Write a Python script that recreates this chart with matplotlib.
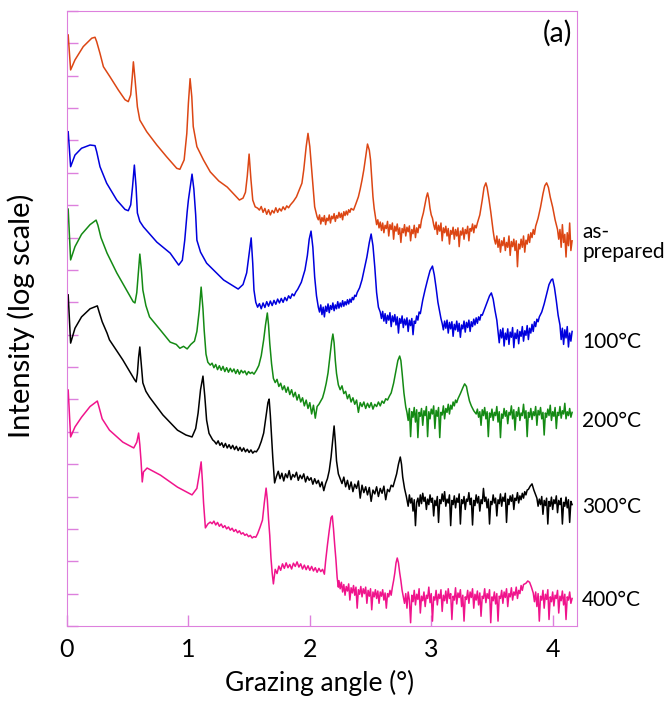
import matplotlib
matplotlib.use("Agg")
import matplotlib.pyplot as plt

# (grazing angle in deg, log10 intensity with offset, in decades)

asp = [(0.01, 18.26), (0.03, 17.18), (0.066, 17.49), (0.134, 17.90), (0.204, 18.16), (0.231, 18.19),
       (0.245, 18.05), (0.272, 17.69), (0.30, 17.28), (0.354, 16.97), (0.423, 16.56), (0.478, 16.26),
       (0.505, 16.20), (0.525, 16.41), (0.538, 16.97), (0.547, 17.43), (0.561, 16.87), (0.58, 16.04),
       (0.60, 15.63), (0.657, 15.27), (0.74, 14.86), (0.82, 14.50), (0.904, 14.14), (0.93, 14.11),
       (0.965, 14.40), (0.987, 15.22), (1.00, 16.15), (1.014, 16.91), (1.028, 16.35), (1.04, 15.43),
       (1.07, 14.81), (1.124, 14.40), (1.18, 14.03), (1.25, 13.75), (1.32, 13.56), (1.39, 13.28),
       (1.42, 13.16), (1.45, 13.22), (1.47, 13.40), (1.485, 13.90), (1.50, 14.58), (1.515, 13.80),
       (1.53, 13.16), (1.55, 12.95), (1.57, 12.91),
       (1.585, 12.85), (1.60, 12.96), (1.615, 12.78), (1.63, 12.90), (1.645, 12.72), (1.66, 12.86),
       (1.675, 12.70), (1.69, 12.84), (1.705, 12.76), (1.72, 12.92), (1.735, 12.78), (1.75, 12.90),
       (1.765, 12.82), (1.78, 12.95), (1.795, 12.86), (1.81, 12.98), (1.825, 12.92),
       (1.84, 13.01), (1.865, 13.12), (1.89, 13.26), (1.91, 13.45), (1.935, 13.68), (1.95, 14.09),
       (1.97, 14.81), (1.985, 15.22), (2.00, 14.81), (2.02, 13.88), (2.04, 12.95), (2.06, 12.64),
       (2.07, 12.55), (2.08, 12.70), (2.09, 12.42), (2.10, 12.62), (2.11, 12.50), (2.12, 12.68),
       (2.13, 12.40), (2.14, 12.60), (2.15, 12.52), (2.16, 12.70), (2.17, 12.45), (2.18, 12.66),
       (2.19, 12.58), (2.20, 12.74), (2.21, 12.50), (2.22, 12.68), (2.23, 12.60), (2.24, 12.78),
       (2.25, 12.62), (2.26, 12.75), (2.27, 12.55), (2.28, 12.80), (2.29, 12.68), (2.30, 12.82),
       (2.31, 12.70), (2.32, 12.86), (2.33, 12.78), (2.34, 12.90),
       (2.36, 12.85), (2.38, 13.05), (2.40, 13.26), (2.415, 13.50), (2.43, 13.78), (2.445, 14.10),
       (2.46, 14.50), (2.475, 14.89), (2.49, 14.70), (2.50, 14.40), (2.51, 13.85), (2.52, 13.26),
       (2.53, 12.90), (2.54, 12.64),
       (2.55, 12.40), (2.56, 12.55), (2.57, 12.30), (2.58, 12.48), (2.59, 12.22), (2.60, 12.45),
       (2.61, 12.15), (2.62, 12.38), (2.63, 12.28), (2.64, 12.50), (2.65, 12.05), (2.66, 12.40),
       (2.67, 12.25), (2.68, 12.45), (2.69, 11.95), (2.70, 12.35), (2.71, 12.20), (2.72, 12.42),
       (2.73, 12.10), (2.74, 12.30), (2.75, 11.85), (2.76, 12.28), (2.77, 12.15), (2.78, 12.40),
       (2.79, 12.05), (2.80, 12.32), (2.81, 12.18), (2.82, 12.36), (2.83, 11.90), (2.84, 12.25),
       (2.85, 12.12), (2.86, 12.38), (2.87, 12.00), (2.88, 12.30), (2.89, 12.15), (2.90, 12.40),
       (2.91, 12.30),
       (2.92, 12.55), (2.935, 12.76), (2.95, 13.05), (2.96, 13.25), (2.97, 13.38), (2.98, 13.20),
       (2.99, 12.90), (3.00, 12.70), (3.01, 12.60),
       (3.02, 12.40), (3.03, 12.25), (3.04, 12.48), (3.05, 12.10), (3.06, 12.38), (3.07, 12.20),
       (3.08, 12.45), (3.09, 11.90), (3.10, 12.30), (3.11, 12.15), (3.12, 12.35), (3.13, 12.05),
       (3.14, 12.28), (3.15, 11.80), (3.16, 12.22), (3.17, 12.10), (3.18, 12.32), (3.19, 11.95),
       (3.20, 12.25), (3.21, 12.05), (3.22, 12.30), (3.23, 11.72), (3.24, 12.20), (3.25, 12.08),
       (3.26, 12.30), (3.27, 11.95), (3.28, 12.25), (3.29, 12.12), (3.30, 12.35), (3.31, 11.90),
       (3.32, 12.28), (3.33, 12.20), (3.34, 12.42), (3.35, 12.15), (3.36, 12.38), (3.37, 12.30),
       (3.38, 12.45), (3.40, 12.70), (3.42, 13.16), (3.435, 13.55), (3.45, 13.69), (3.46, 13.55),
       (3.475, 13.20), (3.49, 12.80), (3.50, 12.50), (3.51, 12.20), (3.52, 11.95),
       (3.53, 11.80), (3.54, 12.05), (3.55, 11.70), (3.56, 11.95), (3.57, 11.55), (3.58, 11.90),
       (3.59, 11.75), (3.60, 12.00), (3.61, 11.60), (3.62, 11.85), (3.63, 11.70), (3.64, 12.05),
       (3.65, 11.45), (3.66, 11.88), (3.67, 11.72), (3.68, 11.95), (3.69, 11.60), (3.70, 11.90),
       (3.71, 11.10), (3.72, 11.80), (3.73, 11.65), (3.74, 11.95), (3.75, 11.70), (3.76, 12.05),
       (3.77, 11.55), (3.78, 11.92), (3.79, 11.80), (3.80, 12.10), (3.81, 11.85), (3.82, 12.15),
       (3.83, 12.00), (3.84, 12.25), (3.85, 12.10),
       (3.86, 12.35), (3.88, 12.60), (3.90, 12.94), (3.92, 13.35), (3.935, 13.60), (3.95, 13.69),
       (3.965, 13.55), (3.98, 13.25), (4.00, 12.94), (4.02, 12.55), (4.04, 12.25),
       (4.05, 11.95), (4.06, 12.25), (4.07, 11.70), (4.08, 12.40), (4.09, 11.85), (4.10, 12.10),
       (4.11, 11.40), (4.12, 12.15), (4.13, 11.75), (4.14, 12.45), (4.15, 11.60), (4.16, 11.90)]

c100 = [(0.01, 15.27), (0.03, 14.19), (0.066, 14.55), (0.12, 14.76), (0.19, 14.86), (0.231, 14.84),
        (0.245, 14.65), (0.272, 14.19), (0.327, 13.68), (0.41, 13.16), (0.478, 12.87), (0.505, 12.83),
        (0.525, 13.01), (0.54, 13.57), (0.555, 14.24), (0.569, 13.57), (0.58, 12.76), (0.60, 12.50),
        (0.63, 12.33), (0.74, 11.86), (0.85, 11.52), (0.92, 11.15), (0.95, 11.30), (0.97, 11.92),
        (0.99, 12.80), (1.00, 13.16), (1.03, 13.96), (1.045, 13.50), (1.06, 12.70), (1.07, 11.92),
        (1.10, 11.55), (1.15, 11.21), (1.29, 10.69), (1.38, 10.48), (1.41, 10.41), (1.45, 10.55),
        (1.48, 10.91), (1.50, 11.50), (1.517, 11.99), (1.53, 11.20), (1.54, 10.38), (1.555, 10.00),
        (1.57, 9.85),
        (1.585, 9.96), (1.60, 9.80), (1.615, 9.98), (1.63, 9.84), (1.645, 10.02), (1.66, 9.88),
        (1.675, 10.04), (1.69, 9.90), (1.705, 10.06), (1.72, 9.94), (1.735, 10.10), (1.75, 9.98),
        (1.765, 10.12), (1.78, 10.00), (1.795, 10.15), (1.81, 10.05), (1.825, 10.20), (1.84, 10.12),
        (1.855, 10.26), (1.87, 10.20), (1.885, 10.32),
        (1.90, 10.40), (1.93, 10.62), (1.96, 11.00), (1.98, 11.45), (1.995, 11.95), (2.01, 12.20),
        (2.025, 11.70), (2.04, 10.78), (2.055, 10.20), (2.07, 9.85),
        (2.08, 9.70), (2.09, 9.92), (2.10, 9.62), (2.11, 9.85), (2.12, 9.55), (2.13, 9.88),
        (2.14, 9.72), (2.15, 9.95), (2.16, 9.68), (2.17, 9.90), (2.18, 9.78), (2.19, 9.98),
        (2.20, 9.74), (2.21, 9.92), (2.22, 9.80), (2.23, 10.02), (2.24, 9.82), (2.25, 9.98),
        (2.26, 9.86), (2.27, 10.05), (2.28, 9.88), (2.29, 10.02), (2.30, 9.92), (2.31, 10.08),
        (2.32, 9.95), (2.33, 10.10), (2.34, 10.00), (2.35, 10.15), (2.36, 10.08), (2.37, 10.22),
        (2.38, 10.18), (2.39, 10.30),
        (2.41, 10.45), (2.43, 10.70), (2.45, 11.05), (2.47, 11.40), (2.49, 11.85), (2.505, 12.11),
        (2.52, 11.75), (2.535, 11.09), (2.55, 10.30), (2.565, 9.85), (2.58, 9.70),
        (2.59, 9.50), (2.60, 9.72), (2.61, 9.42), (2.62, 9.65), (2.63, 9.35), (2.64, 9.60),
        (2.65, 9.45), (2.66, 9.68), (2.67, 9.25), (2.68, 9.58), (2.69, 9.40), (2.70, 9.62),
        (2.71, 9.30), (2.72, 9.55), (2.73, 9.05), (2.74, 9.50), (2.75, 9.35), (2.76, 9.58),
        (2.77, 9.22), (2.78, 9.48), (2.79, 9.30), (2.80, 9.52), (2.81, 9.10), (2.82, 9.45),
        (2.83, 9.28), (2.84, 9.50), (2.85, 9.00), (2.86, 9.42), (2.87, 9.35), (2.88, 9.58),
        (2.89, 9.45), (2.90, 9.70), (2.91, 9.65),
        (2.93, 10.07), (2.95, 10.40), (2.97, 10.70), (2.99, 10.98), (3.01, 11.12), (3.025, 10.85),
        (3.04, 10.45), (3.055, 10.00), (3.07, 9.70), (3.08, 9.50),
        (3.09, 9.35), (3.10, 9.15), (3.11, 9.42), (3.12, 9.20), (3.13, 9.45), (3.14, 9.05),
        (3.15, 9.38), (3.16, 9.18), (3.17, 9.40), (3.18, 8.95), (3.19, 9.32), (3.20, 9.15),
        (3.21, 9.42), (3.22, 9.10), (3.23, 9.35), (3.24, 8.92), (3.25, 9.30), (3.26, 9.18),
        (3.27, 9.42), (3.28, 9.08), (3.29, 9.38), (3.30, 9.22), (3.31, 9.45), (3.32, 9.10),
        (3.33, 9.40), (3.34, 9.25), (3.35, 9.48), (3.36, 9.30), (3.37, 9.52), (3.38, 9.35),
        (3.39, 9.55), (3.40, 9.45), (3.41, 9.62), (3.42, 9.60),
        (3.44, 9.80), (3.46, 10.00), (3.48, 10.20), (3.495, 10.29), (3.51, 10.10), (3.525, 9.75),
        (3.54, 9.45),
        (3.55, 9.10), (3.56, 8.75), (3.57, 9.15), (3.58, 8.90), (3.59, 9.20), (3.60, 8.65),
        (3.61, 9.05), (3.62, 8.85), (3.63, 9.18), (3.64, 8.70), (3.65, 9.08), (3.66, 8.92),
        (3.67, 9.22), (3.68, 8.60), (3.69, 9.05), (3.70, 8.88), (3.71, 9.15), (3.72, 8.72),
        (3.73, 9.10), (3.74, 8.95), (3.75, 9.25), (3.76, 8.80), (3.77, 9.12), (3.78, 8.98),
        (3.79, 9.28), (3.80, 8.85), (3.81, 9.20), (3.82, 9.05), (3.83, 9.32), (3.84, 9.10),
        (3.85, 9.40), (3.86, 9.25), (3.87, 9.48), (3.88, 9.40), (3.89, 9.55),
        (3.91, 9.70), (3.93, 9.95), (3.95, 10.25), (3.97, 10.55), (3.99, 10.70), (4.00, 10.72),
        (4.015, 10.45), (4.03, 10.05), (4.045, 9.60), (4.06, 9.30),
        (4.07, 8.85), (4.08, 9.20), (4.09, 8.70), (4.10, 9.15), (4.11, 8.90), (4.12, 9.25),
        (4.13, 8.62), (4.14, 9.05), (4.15, 8.80), (4.16, 9.10)]

c200 = [(0.01, 12.88), (0.03, 11.31), (0.066, 11.72), (0.12, 12.10), (0.19, 12.40), (0.24, 12.54),
        (0.255, 12.38), (0.28, 12.00), (0.33, 11.52), (0.41, 10.91), (0.49, 10.38), (0.545, 10.02),
        (0.56, 9.98), (0.575, 10.30), (0.59, 11.00), (0.60, 11.49), (0.613, 11.00), (0.625, 10.38),
        (0.65, 9.90), (0.68, 9.55), (0.77, 9.14), (0.85, 8.77), (0.90, 8.70), (0.93, 8.58),
        (0.96, 8.64), (0.99, 8.56), (1.02, 8.70), (1.05, 8.80),
        (1.07, 9.10), (1.09, 9.76), (1.105, 10.47), (1.12, 9.80), (1.13, 9.14), (1.145, 8.40),
        (1.16, 8.15), (1.18, 8.06),
        (1.195, 8.12), (1.21, 7.98), (1.225, 8.08), (1.24, 7.92), (1.255, 8.04), (1.27, 7.90),
        (1.285, 8.02), (1.30, 7.86), (1.315, 7.98), (1.33, 7.84), (1.345, 7.96), (1.36, 7.85),
        (1.375, 7.94), (1.39, 7.80), (1.405, 7.92), (1.42, 7.78), (1.435, 7.90), (1.45, 7.82),
        (1.465, 7.88), (1.48, 7.76), (1.495, 7.86), (1.51, 7.80), (1.525, 7.84), (1.54, 7.78),
        (1.56, 7.90), (1.58, 8.05), (1.60, 8.35), (1.62, 8.84), (1.635, 9.30), (1.65, 9.67),
        (1.66, 9.30), (1.67, 8.74), (1.685, 8.10), (1.70, 7.65),
        (1.715, 7.52), (1.73, 7.62), (1.745, 7.40), (1.76, 7.50), (1.775, 7.30), (1.79, 7.42),
        (1.805, 7.22), (1.82, 7.38), (1.835, 7.15), (1.85, 7.30), (1.865, 7.08), (1.88, 7.22),
        (1.895, 6.98), (1.91, 7.15), (1.925, 6.92), (1.94, 7.05), (1.955, 6.80), (1.97, 6.98),
        (1.985, 6.72), (2.00, 6.90), (2.015, 6.55), (2.03, 6.82), (2.045, 6.42), (2.06, 6.78),
        (2.075, 6.85), (2.09, 6.95), (2.105, 7.05), (2.12, 7.25), (2.135, 7.50),
        (2.15, 7.82), (2.165, 8.30), (2.18, 8.80), (2.19, 9.02), (2.20, 8.75), (2.21, 8.20),
        (2.22, 7.80), (2.235, 7.45),
        (2.25, 7.30), (2.265, 7.42), (2.28, 7.18), (2.295, 7.25), (2.31, 7.02), (2.325, 7.15),
        (2.34, 6.92), (2.355, 7.05), (2.37, 6.85), (2.385, 6.98), (2.40, 6.60), (2.415, 6.90),
        (2.43, 6.78), (2.445, 6.92), (2.46, 6.72), (2.475, 6.88), (2.49, 6.75), (2.505, 6.90),
        (2.52, 6.70), (2.535, 6.85), (2.55, 6.78), (2.565, 6.92), (2.58, 6.80), (2.595, 6.95),
        (2.61, 6.88), (2.625, 7.02), (2.64, 6.98), (2.655, 7.10),
        (2.67, 7.20), (2.69, 7.50), (2.71, 7.90), (2.725, 8.20), (2.74, 8.34), (2.75, 8.20),
        (2.76, 7.82), (2.775, 7.20), (2.79, 6.77),
        (2.80, 6.60), (2.81, 6.35), (2.82, 6.72), (2.83, 5.85), (2.84, 6.62), (2.85, 6.45),
        (2.86, 6.75), (2.87, 6.30), (2.88, 6.68), (2.89, 5.82), (2.90, 6.60), (2.91, 6.48),
        (2.92, 6.72), (2.93, 6.20), (2.94, 6.65), (2.95, 6.50), (2.96, 6.78), (2.97, 5.85),
        (2.98, 6.62), (2.99, 6.40), (3.00, 6.70), (3.01, 6.55), (3.02, 6.80), (3.03, 6.10),
        (3.04, 6.66), (3.05, 6.48), (3.06, 6.75), (3.07, 5.82), (3.08, 6.60), (3.09, 6.52),
        (3.10, 6.80), (3.11, 6.40), (3.12, 6.72), (3.13, 6.60), (3.14, 6.85), (3.15, 6.55),
        (3.16, 6.82), (3.17, 6.70), (3.18, 6.92), (3.19, 6.80), (3.20, 6.98), (3.21, 6.90),
        (3.22, 7.02), (3.24, 7.18), (3.26, 7.36), (3.275, 7.48), (3.29, 7.40), (3.30, 7.20),
        (3.315, 6.95), (3.33, 6.80), (3.35, 6.65), (3.37, 6.55),
        (3.38, 6.70), (3.39, 6.45), (3.40, 6.62), (3.41, 6.20), (3.42, 6.68), (3.43, 6.50),
        (3.44, 6.75), (3.45, 6.40), (3.46, 6.62), (3.47, 5.85), (3.48, 6.58), (3.49, 6.45),
        (3.50, 6.70), (3.51, 6.35), (3.52, 6.60), (3.53, 6.50), (3.54, 6.78), (3.55, 6.30),
        (3.56, 6.62), (3.57, 5.82), (3.58, 6.55), (3.59, 6.42), (3.60, 6.72), (3.61, 6.48),
        (3.62, 6.65), (3.63, 6.25), (3.64, 6.60), (3.65, 6.52), (3.66, 6.80), (3.67, 6.40),
        (3.68, 6.68), (3.69, 6.05), (3.70, 6.62), (3.71, 6.48), (3.72, 6.75), (3.73, 6.35),
        (3.74, 6.58), (3.75, 6.50), (3.76, 6.85), (3.77, 6.42), (3.78, 6.65), (3.79, 5.85),
        (3.80, 6.60), (3.81, 6.45), (3.82, 6.72), (3.83, 6.38), (3.84, 6.62), (3.85, 6.50),
        (3.86, 6.78), (3.87, 6.20), (3.88, 6.66), (3.89, 6.52), (3.90, 6.75), (3.91, 6.40),
        (3.92, 6.60), (3.93, 5.90), (3.94, 6.58), (3.95, 6.45), (3.96, 6.70), (3.97, 6.50),
        (3.98, 6.82), (3.99, 6.35), (4.00, 6.62), (4.01, 6.48), (4.02, 6.75), (4.03, 6.10),
        (4.04, 6.60), (4.05, 6.50), (4.06, 6.78), (4.07, 6.42), (4.08, 6.65), (4.09, 6.55),
        (4.10, 6.88), (4.11, 6.40), (4.12, 6.62), (4.13, 6.50), (4.14, 6.72), (4.15, 6.45),
        (4.16, 6.60)]

c300 = [(0.01, 10.23), (0.03, 8.74), (0.066, 9.20), (0.12, 9.55), (0.19, 9.80), (0.25, 9.89),
        (0.265, 9.70), (0.29, 9.40), (0.33, 9.05), (0.35, 8.84), (0.46, 8.22), (0.555, 7.62),
        (0.57, 7.54), (0.58, 7.80), (0.59, 8.30), (0.60, 8.62), (0.612, 8.10), (0.625, 7.51),
        (0.65, 7.25), (0.68, 7.07), (0.79, 6.52), (0.91, 6.05), (0.98, 5.90), (1.03, 5.84),
        (1.06, 6.10), (1.08, 6.58), (1.10, 7.30), (1.12, 7.72), (1.135, 7.10), (1.15, 6.36),
        (1.17, 5.95), (1.20, 5.75),
        (1.215, 5.70), (1.23, 5.62), (1.245, 5.72), (1.26, 5.58), (1.275, 5.66), (1.29, 5.52),
        (1.305, 5.64), (1.32, 5.50), (1.335, 5.60), (1.35, 5.48), (1.365, 5.58), (1.38, 5.45),
        (1.395, 5.55), (1.41, 5.42), (1.425, 5.52), (1.44, 5.40), (1.455, 5.50), (1.47, 5.38),
        (1.485, 5.46), (1.50, 5.36), (1.515, 5.44), (1.53, 5.34), (1.545, 5.40), (1.56, 5.38),
        (1.58, 5.50), (1.60, 5.70), (1.62, 5.96), (1.64, 6.50), (1.655, 6.90), (1.665, 7.01),
        (1.675, 6.50), (1.685, 5.85), (1.695, 5.20), (1.71, 4.42),
        (1.725, 4.62), (1.74, 4.78), (1.755, 4.55), (1.77, 4.72), (1.785, 4.48), (1.80, 4.70),
        (1.815, 4.58), (1.83, 4.80), (1.845, 4.52), (1.86, 4.68), (1.875, 4.60), (1.89, 4.75),
        (1.905, 4.50), (1.92, 4.66), (1.935, 4.55), (1.95, 4.70), (1.965, 4.45), (1.98, 4.62),
        (1.995, 4.50), (2.01, 4.58), (2.025, 4.38), (2.04, 4.55), (2.055, 4.40), (2.07, 4.50),
        (2.085, 4.30), (2.10, 4.45), (2.115, 4.18), (2.13, 4.40),
        (2.145, 4.55), (2.16, 4.80), (2.175, 5.22), (2.19, 5.80), (2.20, 6.18), (2.21, 5.70),
        (2.22, 5.10), (2.235, 4.70), (2.25, 4.55),
        (2.265, 4.40), (2.28, 4.60), (2.295, 4.30), (2.31, 4.50), (2.325, 4.22), (2.34, 4.45),
        (2.355, 4.15), (2.37, 4.38), (2.385, 4.25), (2.40, 4.48), (2.415, 3.95), (2.43, 4.35),
        (2.445, 4.12), (2.46, 4.30), (2.475, 4.05), (2.49, 4.28), (2.505, 3.85), (2.52, 4.20),
        (2.535, 4.08), (2.55, 4.30), (2.565, 4.00), (2.58, 4.25), (2.595, 4.10), (2.61, 4.32),
        (2.625, 3.90), (2.64, 4.22), (2.655, 4.15), (2.67, 4.35), (2.685, 4.30),
        (2.70, 4.50), (2.715, 4.70), (2.73, 5.00), (2.745, 5.22), (2.755, 5.00), (2.765, 4.60),
        (2.78, 4.25), (2.795, 4.00),
        (2.80, 3.90), (2.81, 3.70), (2.82, 4.05), (2.83, 3.80), (2.84, 3.95), (2.85, 3.55),
        (2.86, 3.90), (2.87, 3.10), (2.88, 3.82), (2.89, 3.95), (2.90, 3.70), (2.91, 4.05),
        (2.92, 3.78), (2.93, 4.10), (2.94, 3.85), (2.95, 3.98), (2.96, 3.60), (2.97, 3.92),
        (2.98, 3.75), (2.99, 4.05), (3.00, 3.82), (3.01, 3.95), (3.02, 3.40), (3.03, 3.88),
        (3.04, 3.72), (3.05, 4.00), (3.06, 3.20), (3.07, 3.90), (3.08, 3.78), (3.09, 4.08),
        (3.10, 3.85), (3.11, 4.15), (3.12, 3.70), (3.13, 3.92), (3.14, 3.80), (3.15, 4.05),
        (3.16, 3.10), (3.17, 3.88), (3.18, 3.75), (3.19, 4.02), (3.20, 3.65), (3.21, 3.95),
        (3.22, 3.82), (3.23, 4.08), (3.24, 3.15), (3.25, 3.90), (3.26, 3.78), (3.27, 4.00),
        (3.28, 3.60), (3.29, 3.92), (3.30, 3.85), (3.31, 4.12), (3.32, 3.75), (3.33, 3.95),
        (3.34, 3.12), (3.35, 3.88), (3.36, 3.72), (3.37, 4.05), (3.38, 3.80), (3.39, 4.00),
        (3.40, 3.55), (3.41, 3.90), (3.42, 3.78), (3.43, 4.25), (3.44, 3.85), (3.45, 3.98),
        (3.46, 3.65), (3.47, 3.92), (3.48, 3.15), (3.49, 3.85), (3.50, 3.75), (3.51, 4.05),
        (3.52, 3.80), (3.53, 3.95), (3.54, 3.40), (3.55, 3.90), (3.56, 3.78), (3.57, 4.08),
        (3.58, 3.70), (3.59, 3.98), (3.60, 3.85), (3.61, 4.10), (3.62, 3.20), (3.63, 3.92),
        (3.64, 3.75), (3.65, 4.02), (3.66, 3.85), (3.67, 4.05), (3.68, 3.60), (3.69, 3.95),
        (3.70, 3.88), (3.71, 4.12), (3.72, 3.80), (3.73, 4.02), (3.74, 3.90), (3.75, 4.10),
        (3.76, 3.95), (3.77, 4.15), (3.78, 4.05), (3.79, 4.20),
        (3.80, 4.22), (3.815, 4.32), (3.83, 4.39), (3.845, 4.20), (3.86, 4.05), (3.87, 3.95),
        (3.88, 3.70), (3.89, 3.92), (3.90, 3.75), (3.91, 4.00), (3.92, 3.45), (3.93, 3.88),
        (3.94, 3.72), (3.95, 3.95), (3.96, 3.15), (3.97, 3.85), (3.98, 3.70), (3.99, 3.98),
        (4.00, 3.60), (4.01, 3.90), (4.02, 3.78), (4.03, 4.02), (4.04, 3.50), (4.05, 3.88),
        (4.06, 3.75), (4.07, 3.95), (4.08, 3.15), (4.09, 3.82), (4.10, 3.70), (4.11, 3.98),
        (4.12, 3.65), (4.13, 3.90), (4.14, 3.20), (4.15, 3.85), (4.16, 3.75)]

c400 = [(0.01, 7.29), (0.03, 5.84), (0.066, 6.15), (0.12, 6.45), (0.19, 6.78), (0.25, 6.95),
        (0.265, 6.75), (0.29, 6.40), (0.35, 6.05), (0.46, 5.68), (0.55, 5.50), (0.575, 5.68),
        (0.59, 5.96), (0.60, 5.60), (0.61, 5.10), (0.62, 4.45), (0.63, 4.76), (0.66, 4.88),
        (0.77, 4.66), (0.91, 4.29), (1.03, 4.05), (1.07, 4.25), (1.09, 4.70), (1.105, 5.07),
        (1.115, 4.50), (1.125, 3.80), (1.14, 3.03), (1.16, 3.15), (1.18, 3.21),
        (1.195, 3.16), (1.21, 3.24), (1.225, 3.12), (1.24, 3.20), (1.255, 3.08), (1.27, 3.15),
        (1.285, 3.04), (1.30, 3.10), (1.315, 3.00), (1.33, 3.06), (1.345, 2.96), (1.36, 3.02),
        (1.375, 2.92), (1.39, 2.98), (1.405, 2.88), (1.42, 2.94), (1.435, 2.84), (1.45, 2.88),
        (1.465, 2.80), (1.48, 2.84), (1.495, 2.76), (1.51, 2.80), (1.525, 2.72), (1.54, 2.76),
        (1.555, 2.74),
        (1.57, 2.85), (1.59, 3.05), (1.61, 3.27), (1.625, 3.80), (1.64, 4.26), (1.65, 3.90),
        (1.66, 3.30), (1.67, 2.80), (1.68, 2.10), (1.69, 1.64),
        (1.70, 1.30), (1.715, 1.75), (1.73, 1.62), (1.745, 1.85), (1.76, 1.72), (1.775, 1.92),
        (1.79, 1.78), (1.805, 1.95), (1.82, 1.80), (1.835, 1.90), (1.85, 1.76), (1.865, 1.94),
        (1.88, 1.84), (1.895, 1.98), (1.91, 1.82), (1.925, 1.92), (1.94, 1.76), (1.955, 1.88),
        (1.97, 1.74), (1.985, 1.86), (2.00, 1.72), (2.015, 1.84), (2.03, 1.70), (2.045, 1.80),
        (2.06, 1.66), (2.075, 1.78), (2.09, 1.68), (2.105, 1.75), (2.12, 1.60),
        (2.13, 2.00), (2.145, 2.50), (2.16, 2.95), (2.175, 3.35), (2.185, 3.40), (2.195, 3.00),
        (2.205, 2.50), (2.215, 2.05), (2.225, 1.50), (2.235, 1.20),
        (2.24, 1.40), (2.25, 1.15), (2.26, 1.35), (2.27, 1.05), (2.28, 1.28), (2.29, 0.95),
        (2.30, 1.22), (2.31, 1.08), (2.32, 1.30), (2.33, 0.80), (2.34, 1.18), (2.35, 1.02),
        (2.36, 1.25), (2.37, 0.95), (2.38, 1.20), (2.39, 0.55), (2.40, 1.12), (2.41, 0.98),
        (2.42, 1.22), (2.43, 0.90), (2.44, 1.15), (2.45, 1.00), (2.46, 1.20), (2.47, 0.70),
        (2.48, 1.10), (2.49, 0.92), (2.50, 1.15), (2.51, 0.50), (2.52, 1.05), (2.53, 0.90),
        (2.54, 1.12), (2.55, 0.85), (2.56, 1.08), (2.57, 0.70), (2.58, 1.05), (2.59, 0.92),
        (2.60, 1.12), (2.61, 0.80), (2.62, 1.02), (2.63, 0.55), (2.64, 1.00), (2.65, 0.90),
        (2.66, 1.10), (2.67, 0.95), (2.68, 1.20),
        (2.69, 1.40), (2.70, 1.64), (2.71, 1.95), (2.72, 2.10), (2.73, 1.95), (2.74, 1.65),
        (2.75, 1.40), (2.76, 1.10), (2.77, 0.90),
        (2.78, 0.70), (2.79, 1.00), (2.80, 0.55), (2.81, 1.05), (2.82, 0.80), (2.83, 0.10),
        (2.84, 0.95), (2.85, 0.75), (2.86, 1.10), (2.87, 0.65), (2.88, 0.98), (2.89, 0.82),
        (2.90, 1.15), (2.91, 0.40), (2.92, 0.92), (2.93, 0.78), (2.94, 1.05), (2.95, 0.60),
        (2.96, 0.95), (2.97, 0.85), (2.98, 1.20), (2.99, 0.72), (3.00, 1.00), (3.01, 0.15),
        (3.02, 0.90), (3.03, 0.80), (3.04, 1.10), (3.05, 0.65), (3.06, 0.98), (3.07, 0.85),
        (3.08, 1.12), (3.09, 0.45), (3.10, 0.95), (3.11, 0.78), (3.12, 1.08), (3.13, 0.70),
        (3.14, 1.15), (3.15, 0.85), (3.16, 1.00), (3.17, 0.20), (3.18, 0.92), (3.19, 0.80),
        (3.20, 1.18), (3.21, 0.68), (3.22, 1.02), (3.23, 0.88), (3.24, 1.12), (3.25, 0.60),
        (3.26, 0.95), (3.27, 0.15), (3.28, 0.90), (3.29, 0.82), (3.30, 1.10), (3.31, 0.70),
        (3.32, 1.05), (3.33, 0.88), (3.34, 1.15), (3.35, 0.55), (3.36, 0.98), (3.37, 0.80),
        (3.38, 1.08), (3.39, 0.65), (3.40, 1.02), (3.41, 0.30), (3.42, 0.92), (3.43, 0.85),
        (3.44, 1.15), (3.45, 0.72), (3.46, 1.00), (3.47, 0.85), (3.48, 1.12), (3.49, 0.10),
        (3.50, 0.90), (3.51, 0.78), (3.52, 1.05), (3.53, 0.68), (3.54, 1.00), (3.55, 0.15),
        (3.56, 0.92), (3.57, 0.85), (3.58, 1.10), (3.59, 0.70), (3.60, 1.05), (3.61, 0.88),
        (3.62, 1.15), (3.63, 0.60), (3.64, 1.00), (3.65, 0.90), (3.66, 1.18), (3.67, 0.80),
        (3.68, 1.05), (3.69, 0.95), (3.70, 1.20), (3.71, 0.85), (3.72, 1.10), (3.73, 1.00),
        (3.74, 1.25), (3.75, 1.10),
        (3.76, 1.28), (3.78, 1.32), (3.795, 1.39), (3.81, 1.35), (3.825, 1.20), (3.84, 1.02),
        (3.85, 0.75), (3.86, 1.05), (3.87, 0.60), (3.88, 1.00), (3.89, 0.15), (3.90, 0.92),
        (3.91, 0.80), (3.92, 1.10), (3.93, 0.55), (3.94, 0.98), (3.95, 0.82), (3.96, 1.12),
        (3.97, 0.20), (3.98, 0.90), (3.99, 0.75), (4.00, 1.05), (4.01, 0.62), (4.02, 0.95),
        (4.03, 0.85), (4.04, 1.10), (4.05, 0.40), (4.06, 0.92), (4.07, 0.78), (4.08, 1.08),
        (4.09, 0.65), (4.10, 0.98), (4.11, 0.20), (4.12, 0.90), (4.13, 0.80), (4.14, 1.05),
        (4.15, 0.70), (4.16, 0.85)]

labels = ["as-\nprepared", "100°C", "200°C", "300°C", "400°C"]
label_pos = [11.85, 8.77, 6.33, 3.68, 0.80]
colors = ["#dc4614", "#0000dd", "#148a14", "black", "#f0148c"]
frame = "#dd80dd"

plt.rcParams['font.family'] = ['Lato', 'DejaVu Sans']

fig = plt.figure(figsize=(6.67, 7.02), dpi=100)
ax = fig.add_axes([0.1004, 0.1083, 0.7646, 0.876])

for curve, c in zip([asp, c100, c200, c300, c400], colors):
    ang, inten = zip(*curve)
    ax.plot(ang, inten, color=c, lw=1.1)

for lab, yy in zip(labels, label_pos):
    ax.text(1.01, yy, lab, transform=ax.get_yaxis_transform(), fontsize=15,
            va='center', ha='left', linespacing=1.0)

ax.text(0.99, 0.963, "(a)", transform=ax.transAxes, fontsize=20.5, ha='right', va='center')

ax.set_xlim(0, 4.2)
ax.set_ylim(0, 19)
ax.set_xticks([0, 1, 2, 3, 4])
ax.set_yticks(range(0, 20))
ax.set_yticklabels([])
ax.tick_params(direction='in', length=8, color=frame, width=1)
ax.tick_params(axis='x', labelsize=18, pad=9)
for s in ax.spines.values():
    s.set_color(frame)

ax.set_xlabel("Grazing angle (°)", fontsize=19)
ax.set_ylabel("Intensity (log scale)", fontsize=21)
ax.xaxis.set_label_coords(0.496, -0.072)
ax.yaxis.set_label_coords(-0.062, 0.505)

fig.savefig("out.png", dpi=100)
